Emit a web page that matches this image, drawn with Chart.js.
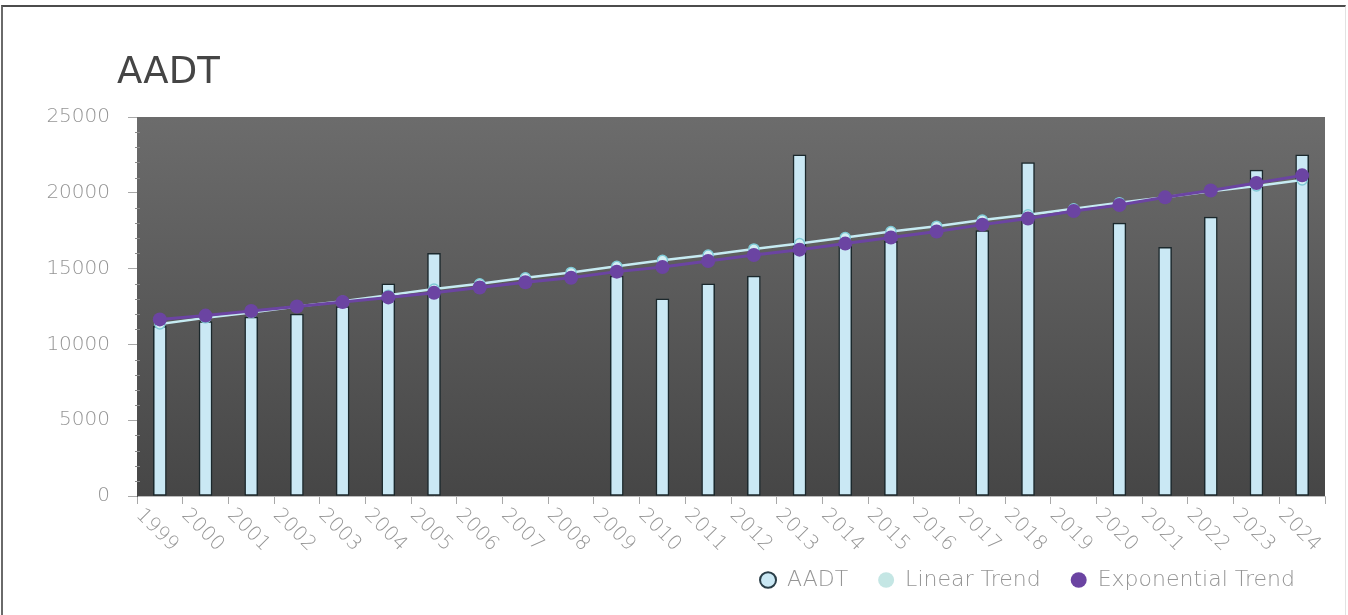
<!DOCTYPE html>
<html>
<head>
<meta charset="utf-8">
<script src="https://cdn.jsdelivr.net/npm/chart.js@4"></script>
<style>
  html, body { margin: 0; padding: 0; background: #fff; overflow: hidden; }
  #frame {
    position: absolute; left: 1px; top: 5px; width: 1342px; height: 700px;
    border-top: 2px solid #4c4c4c; border-left: 2px solid #6a6a6a; border-right: 1px solid #e2e2e2;
  }
  #wrap { position: absolute; left: 0; top: 0; width: 1348px; height: 615px; }
</style>
</head>
<body>
<div id="frame"></div>
<div id="wrap"><canvas id="aadtChart"></canvas></div>
<script>
// chart data
const years = ['1999', '2000', '2001', '2002', '2003', '2004', '2005', '2006', '2007', '2008', '2009', '2010', '2011',
               '2012', '2013', '2014', '2015', '2016', '2017', '2018', '2019', '2020', '2021', '2022', '2023', '2024'];
const aadt = [11200, 11500, 11800, 12000, 12500, 14000, 16000, null, null, null, 14500, 13000, 14000,
              14500, 22500, 16500, 16800, null, 17500, 22000, null, 18000, 16400, 18400, 21500, 22500];
const linearTrend = [11350, 11750, 12100, 12500, 12850, 13250, 13650, 14000, 14400, 14750, 15150, 15550, 15900,
                     16300, 16650, 17050, 17450, 17800, 18200, 18550, 18950, 19350, 19700, 20100, 20450, 20850];
const expTrend = [11650, 11900, 12200, 12500, 12800, 13100, 13400, 13750, 14100, 14400, 14800, 15100, 15500,
                  15900, 16250, 16650, 17050, 17450, 17900, 18300, 18800, 19200, 19700, 20150, 20650, 21150];
const yTicks = [0, 5000, 10000, 15000, 20000, 25000];

const FONT = 'DejaVu Sans';
const barFill = '#cae8f4';
const barEdge = '#1b282c';
const linColor = '#c6ebf2';
const expColor = '#6b44a2';

// plot background + title + rotated year labels + minor ticks
const decor = {
    id: 'decor',
    beforeDatasetsDraw(chart) {
        const { ctx, chartArea: a } = chart;
        const g = ctx.createLinearGradient(0, a.top, 0, a.bottom);
        g.addColorStop(0, '#6c6c6c');
        g.addColorStop(1, '#464646');
        ctx.save();
        ctx.fillStyle = g;
        ctx.fillRect(a.left, a.top, a.right - a.left, a.bottom - a.top);
        // minor ticks on y axis
        const y = chart.scales.y;
        ctx.strokeStyle = '#8a8a8a';
        ctx.lineWidth = 1;
        for (let v = 1000; v < 25000; v += 1000) {
            if (v % 5000 === 0) continue;
            const py = Math.round(y.getPixelForValue(v)) + 0.5;
            ctx.beginPath();
            ctx.moveTo(a.left - 2, py);
            ctx.lineTo(a.left + 3, py);
            ctx.stroke();
        }
        ctx.restore();
    },
    afterDraw(chart) {
        const { ctx, chartArea: a } = chart;
        const x = chart.scales.x;
        ctx.save();
        ctx.fillStyle = '#454545';
        ctx.font = '37px "' + FONT + '"';
        ctx.textAlign = 'left';
        ctx.textBaseline = 'alphabetic';
        ctx.fillText('AADT', a.left - 20, 83);

        const half = (x.getPixelForValue(1) - x.getPixelForValue(0)) / 2;
        ctx.fillStyle = '#959595';
        ctx.font = '200 20px "' + FONT + '"';
        ctx.textBaseline = 'middle';
        years.forEach((yr, i) => {
            const px = x.getPixelForValue(i) - half;
            ctx.save();
            ctx.translate(px + 2, a.bottom + 16);
            ctx.rotate(Math.PI / 4);
            ctx.fillText(yr, 0, 0);
            ctx.restore();
        });
        ctx.restore();
    }
};

new Chart(document.getElementById('aadtChart'), {
    data: {
        labels: years,
        datasets: [
            {
                type: 'bar',
                label: 'AADT',
                data: aadt,
                backgroundColor: barFill,
                borderColor: barEdge,
                borderWidth: 1.5,
                borderSkipped: false,
                barThickness: 13,
                order: 3
            },
            {
                type: 'line',
                label: 'Linear Trend',
                data: linearTrend,
                borderColor: linColor,
                borderWidth: 2.5,
                pointRadius: 5,
                pointBackgroundColor: '#d4eff3',
                pointBorderColor: '#7fcad6',
                pointBorderWidth: 1.5,
                tension: 0,
                order: 2
            },
            {
                type: 'line',
                label: 'Exponential Trend',
                data: expTrend,
                borderColor: expColor,
                borderWidth: 3,
                pointRadius: 7,
                pointBackgroundColor: expColor,
                pointBorderWidth: 0,
                tension: 0,
                order: 1
            }
        ]
    },
    options: {
        responsive: true,
        maintainAspectRatio: false,
        animation: false,
        layout: { padding: { left: 0, right: 23, top: 117, bottom: 14 } },
        scales: {
            x: {
                offset: true,
                grid: { display: true, drawOnChartArea: false, drawTicks: true, tickLength: 8, color: '#a8a8a8', offset: true },
                border: { display: true, color: '#bbbbbb' },
                ticks: { display: false },
                afterFit(scale) { scale.height = 43; }
            },
            y: {
                min: 0,
                max: 25000,
                afterBuildTicks(scale) { scale.ticks = yTicks.map(v => ({ value: v })); },
                grid: { display: true, drawOnChartArea: false, drawTicks: true, tickLength: 9, color: '#a8a8a8' },
                border: { display: true, color: '#555555' },
                ticks: {
                    color: '#959595',
                    padding: 18,
                    font: { family: FONT, size: 20, weight: '200' },
                    callback: v => String(v)
                },
                afterFit(scale) { scale.width = 137; }
            }
        },
        plugins: {
            tooltip: { enabled: false },
            legend: {
                display: true,
                position: 'bottom',
                align: 'end',
                fullSize: false,
                labels: {
                    color: '#959595',
                    font: { family: FONT, size: 22, weight: '200' },
                    usePointStyle: true,
                    pointStyle: 'circle',
                    boxWidth: 16,
                    boxHeight: 11,
                    pointStyleWidth: 16,
                    padding: 30,
                    sort: (a, b) => a.datasetIndex - b.datasetIndex,
                    generateLabels(chart) {
                        const items = Chart.defaults.plugins.legend.labels.generateLabels(chart);
                        const fills = [barFill, '#c4e6e4', expColor];
                        const edges = ['#2a3e48', '#c4e6e4', expColor];
                        items.forEach(it => {
                            it.fillStyle = fills[it.datasetIndex];
                            it.strokeStyle = edges[it.datasetIndex];
                            it.lineWidth = it.datasetIndex === 0 ? 2 : 0;
                            it.fontColor = '#959595';
                        });
                        return items;
                    }
                }
            }
        }
    },
    plugins: [decor]
});
</script>
</body>
</html>
